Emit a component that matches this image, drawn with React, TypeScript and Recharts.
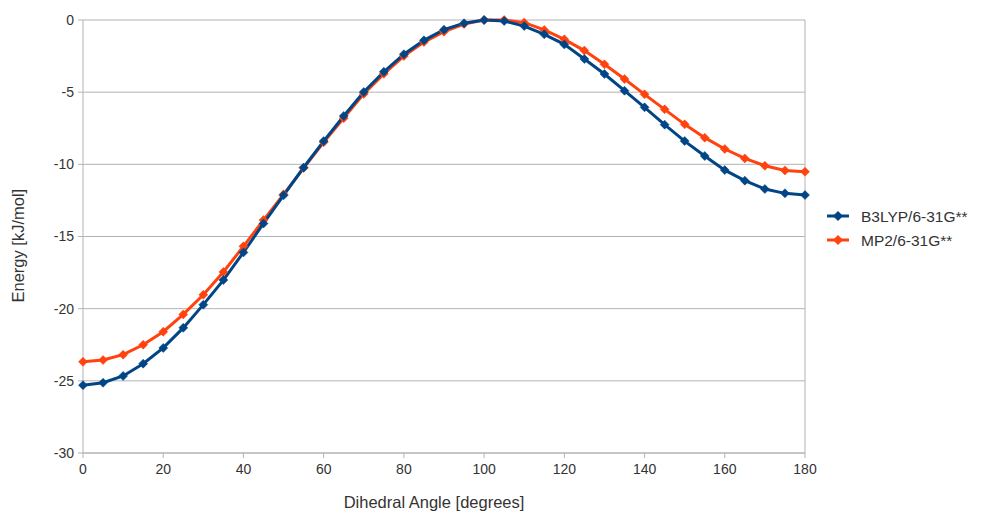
import React from "react";
import {
  LineChart,
  Line,
  XAxis,
  YAxis,
  CartesianGrid,
  ReferenceLine,
  Label,
} from "recharts";

// Dihedral angle scan (degrees) and relative energies (kJ/mol)
const angles = [
  0, 5, 10, 15, 20, 25, 30, 35, 40, 45, 50, 55, 60, 65, 70, 75, 80, 85, 90,
  95, 100, 105, 110, 115, 120, 125, 130, 135, 140, 145, 150, 155, 160, 165,
  170, 175, 180,
];

const b3lyp = [
  -25.3, -25.13, -24.66, -23.81, -22.72, -21.33, -19.72, -18.02, -16.1,
  -14.1, -12.15, -10.22, -8.39, -6.65, -4.99, -3.59, -2.37, -1.41, -0.67,
  -0.22, 0, -0.07, -0.42, -0.99, -1.69, -2.7, -3.74, -4.9, -6.05, -7.25,
  -8.39, -9.42, -10.4, -11.13, -11.71, -12.01, -12.13,
];

const mp2 = [
  -23.68, -23.56, -23.19, -22.5, -21.6, -20.4, -19.04, -17.46, -15.68,
  -13.86, -12.08, -10.26, -8.47, -6.8, -5.12, -3.73, -2.5, -1.53, -0.81,
  -0.28, 0, 0, -0.18, -0.69, -1.34, -2.12, -3.07, -4.09, -5.15, -6.19,
  -7.23, -8.15, -8.94, -9.59, -10.1, -10.42, -10.51,
];

const xTicks = [0, 20, 40, 60, 80, 100, 120, 140, 160, 180];
const yTicks = [0, -5, -10, -15, -20, -25, -30];

const seriesNames = { b3lyp: "B3LYP/6-31G**", mp2: "MP2/6-31G**" };
const BLUE = "#004586";
const ORANGE = "#ff420e";

const data = angles.map((a, i) => ({ angle: a, b3lyp: b3lyp[i], mp2: mp2[i] }));

const FONT = "'Liberation Sans', Arial, sans-serif";

const Diamond = (color: string) => (props: any) => {
  const { cx, cy, index } = props;
  if (cx == null || cy == null) return <g key={index} />;
  const r = 4.5;
  return (
    <path
      key={index}
      d={`M${cx},${cy - r} L${cx + r},${cy} L${cx},${cy + r} L${cx - r},${cy} Z`}
      fill={color}
      stroke={color}
      strokeWidth={0.5}
    />
  );
};

const LegendBox = () => {
  const items = [
    { name: seriesNames.b3lyp, color: BLUE },
    { name: seriesNames.mp2, color: ORANGE },
  ];
  return (
    <svg
      width={160}
      height={50}
      style={{ position: "absolute", left: 825, top: 207, overflow: "visible" }}
    >
      {items.map((it, i) => {
        const y = 9 + i * 24;
        return (
          <g key={it.name}>
            <line x1={2} y1={y} x2={24} y2={y} stroke={it.color} strokeWidth={3} />
            <path d={`M13,${y - 5} L18,${y} L13,${y + 5} L8,${y} Z`} fill={it.color} />
            <text x={36} y={y + 5.5} fontFamily={FONT} fontSize={15.5} fill="#333">
              {it.name}
            </text>
          </g>
        );
      })}
    </svg>
  );
};

export default function App() {
  return (
    <div style={{ position: "absolute", left: 0, top: 0, width: 982, height: 515, background: "#fff" }}>
      <LineChart
        width={982}
        height={515}
        data={data}
        margin={{ top: 20, right: 177, bottom: 22, left: 0 }}
      >
        <CartesianGrid horizontal vertical={false} stroke="#b3b3b3" strokeWidth={1} />
        <XAxis
          dataKey="angle"
          type="number"
          domain={[0, 180]}
          ticks={xTicks}
          interval={0}
          height={40}
          stroke="#b3b3b3"
          tickSize={5}
          tick={{ fill: "#333", fontSize: 14, fontFamily: FONT }}
          tickMargin={6}
        >
          <Label
            value="Dihedral Angle [degrees]"
            position="bottom"
            offset={0}
            dx={-10}
            dy={3}
            style={{ fill: "#333", fontSize: 16.5, fontFamily: FONT }}
          />
        </XAxis>
        <YAxis
          type="number"
          domain={[-30, 0]}
          ticks={yTicks}
          interval={0}
          width={83}
          stroke="#b3b3b3"
          tickSize={5}
          tick={{ fill: "#333", fontSize: 14, fontFamily: FONT }}
          tickMargin={4}
        >
          <Label
            value="Energy [kJ/mol]"
            angle={-90}
            position="insideLeft"
            offset={18}
            dy={66}
            style={{ fill: "#333", fontSize: 16.5, fontFamily: FONT }}
          />
        </YAxis>
        <ReferenceLine x={180} stroke="#b3b3b3" strokeWidth={1} />
        <Line
          dataKey="mp2"
          name={seriesNames.mp2}
          stroke={ORANGE}
          strokeWidth={3}
          dot={Diamond(ORANGE)}
          activeDot={false}
          isAnimationActive={false}
        />
        <Line
          dataKey="b3lyp"
          name={seriesNames.b3lyp}
          stroke={BLUE}
          strokeWidth={3}
          dot={Diamond(BLUE)}
          activeDot={false}
          isAnimationActive={false}
        />
      </LineChart>
      <LegendBox />
    </div>
  );
}
